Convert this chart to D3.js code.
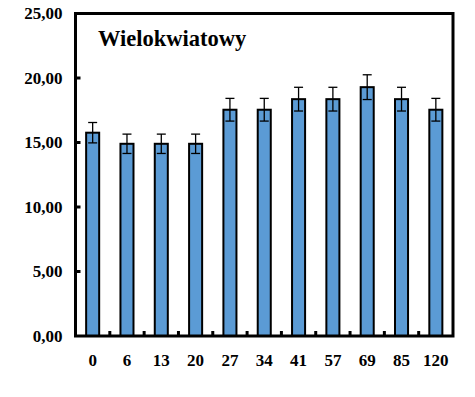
<!DOCTYPE html>
<html>
<head>
<meta charset="utf-8">
<script src="https://cdn.jsdelivr.net/npm/d3@7"></script>
<style>
  body { margin: 0; background: #fff; }
</style>
</head>
<body>
<div id="chart"></div>
<script>
// Data
var categories  = [ '0', '6', '13', '20', '27', '34', '41', '57', '69', '85', '120' ];
var values      = [ 15.76, 14.90, 14.90, 14.90, 17.54, 17.54, 18.36, 18.36, 19.29, 18.36, 17.54 ];
var errors      = [ 0.79, 0.75, 0.75, 0.75, 0.88, 0.88, 0.92, 0.92, 0.96, 0.92, 0.88 ];
var y_ticks     = [ 0, 5, 10, 15, 20, 25 ];
var title       = 'Wielokwiatowy';

var chart_width  = 475;
var chart_height = 397;
var margin = { left: 75.5, right: 22, top: 13.5, bottom: 61 };
var font = '"Liberation Serif", "Times New Roman", serif';

// scales
var x = d3.scaleBand()
    .domain(categories)
    .range([margin.left, chart_width - margin.right])
    .paddingInner(0.62)
    .paddingOuter(0.31);

var y = d3.scaleLinear()
    .domain([0, 25])
    .range([chart_height - margin.bottom, margin.top]);

var fmt = function(d){ return d3.format('.2f')(d).replace('.', ','); };

// create chart
var svg = d3.select('#chart')
    .append('svg')
    .attr('width', chart_width)
    .attr('height', chart_height);

// y axis labels + inner ticks
var yAxis = d3.axisLeft(y)
    .tickValues(y_ticks)
    .tickFormat(fmt)
    .tickSize(0)
    .tickPadding(13);

var gy = svg.append('g')
    .attr('transform', 'translate(' + margin.left + ',0)')
    .call(yAxis);
gy.select('.domain').remove();
gy.selectAll('text')
    .style('font-family', font)
    .style('font-size', '17px')
    .style('font-weight', 'bold')
    .attr('fill', '#000');

svg.selectAll('line.ytick')
    .data(y_ticks.filter(function(d){ return d > 0 && d < 25; }))
    .enter()
    .append('line')
    .attr('class', 'ytick')
    .attr('x1', margin.left)
    .attr('x2', margin.left + 5)
    .attr('y1', function(d){ return y(d); })
    .attr('y2', function(d){ return y(d); })
    .attr('stroke', '#000')
    .attr('stroke-width', 3);

// x axis labels
var xAxis = d3.axisBottom(x).tickSize(0).tickPadding(18);
var gx = svg.append('g')
    .attr('transform', 'translate(0,' + y(0) + ')')
    .call(xAxis);
gx.select('.domain').remove();
gx.selectAll('text')
    .style('font-family', font)
    .style('font-size', '17px')
    .style('font-weight', 'bold')
    .attr('fill', '#000');

// x ticks at band boundaries (inside)
var step = x.step();
svg.selectAll('line.xtick')
    .data(categories.slice(1))
    .enter()
    .append('line')
    .attr('class', 'xtick')
    .attr('x1', function(d){ return x(d) + x.bandwidth() / 2 - step / 2; })
    .attr('x2', function(d){ return x(d) + x.bandwidth() / 2 - step / 2; })
    .attr('y1', y(0))
    .attr('y2', y(0) - 5)
    .attr('stroke', '#000')
    .attr('stroke-width', 3);

// bars
svg.selectAll('rect.bar')
    .data(values)
    .enter()
    .append('rect')
    .attr('class', 'bar')
    .attr('x', function(d, i){ return x(categories[i]); })
    .attr('y', function(d){ return y(d); })
    .attr('width', x.bandwidth())
    .attr('height', function(d){ return y(0) - y(d); })
    .attr('fill', '#5B9BD5')
    .attr('stroke', '#000')
    .attr('stroke-width', 2);

// error bars
var err = svg.selectAll('g.err')
    .data(values)
    .enter()
    .append('g')
    .attr('class', 'err')
    .attr('stroke', '#000')
    .attr('stroke-width', 1.3);

err.append('line')
    .attr('x1', function(d, i){ return x(categories[i]) + x.bandwidth() / 2; })
    .attr('x2', function(d, i){ return x(categories[i]) + x.bandwidth() / 2; })
    .attr('y1', function(d, i){ return y(d + errors[i]); })
    .attr('y2', function(d, i){ return y(d - errors[i]); });

[1, -1].forEach(function(s){
    err.append('line')
        .attr('x1', function(d, i){ return x(categories[i]) + x.bandwidth() / 2 - 4.5; })
        .attr('x2', function(d, i){ return x(categories[i]) + x.bandwidth() / 2 + 4.5; })
        .attr('y1', function(d, i){ return y(d + s * errors[i]); })
        .attr('y2', function(d, i){ return y(d + s * errors[i]); });
});

// frame
svg.append('rect')
    .attr('x', margin.left)
    .attr('y', margin.top)
    .attr('width', chart_width - margin.right - margin.left)
    .attr('height', y(0) - margin.top)
    .attr('fill', 'none')
    .attr('stroke', '#000')
    .attr('stroke-width', 3);

// title
svg.append('text')
    .attr('x', 98)
    .attr('y', 46)
    .style('font-family', font)
    .style('font-size', '22.5px')
    .style('font-weight', 'bold')
    .attr('fill', '#000')
    .text(title);
</script>
</body>
</html>
